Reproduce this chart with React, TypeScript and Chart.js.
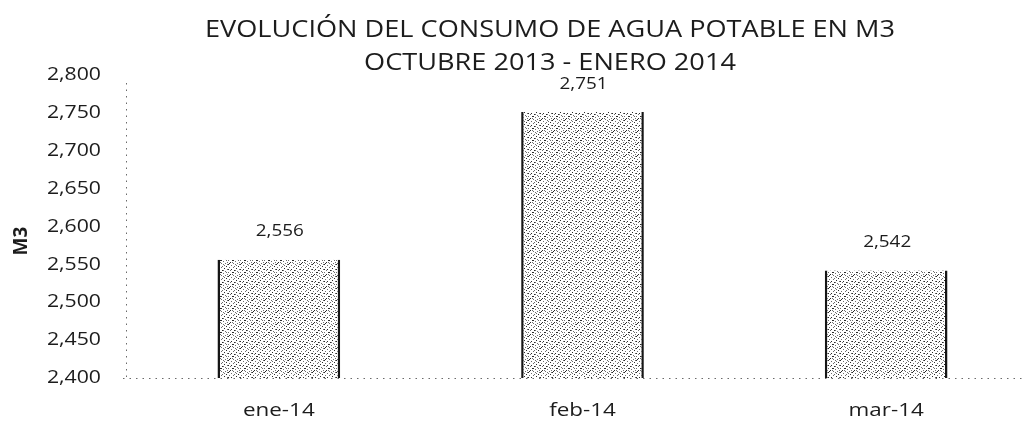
import React, { useEffect, useRef } from "react";
import { Chart, registerables } from "chart.js";

Chart.register(...registerables);

const categories = ["ene-14", "feb-14", "mar-14"];
const consumo = [2556, 2751, 2542];
const yMin = 2400;
const yMax = 2800;
const yStep = 50;
const titleLines = ["EVOLUCIÓN DEL CONSUMO DE AGUA POTABLE EN M3", "OCTUBRE 2013 - ENERO 2014"];
const yTitle = "M3";

const FONT = "'Open Sans', 'DejaVu Sans', sans-serif";
const INK = "#1c1c1c";
const STRETCH = 1.18;

const fmt = (v: number) => v.toLocaleString("en-US");

function makePattern(): CanvasPattern | string {
  const c = document.createElement("canvas");
  c.width = 12;
  c.height = 12;
  const g = c.getContext("2d");
  if (!g) return "#c8c8c8";
  g.fillStyle = "#ffffff";
  g.fillRect(0, 0, 12, 12);
  const dots = [
    [0, 0], [3, 1], [7, 0], [10, 2], [1, 3], [5, 3], [8, 4], [11, 5],
    [2, 6], [6, 6], [9, 7], [0, 8], [4, 8], [7, 9], [11, 10], [2, 10],
    [5, 11], [9, 11], [3, 5], [10, 8], [6, 2], [1, 11], [8, 1], [4, 10],
    [0, 5], [7, 6], [11, 0], [5, 8],
  ];
  dots.forEach(([x, y], i) => {
    g.fillStyle = i % 3 === 0 ? "#2a2a2a" : "#6e6e6e";
    g.fillRect(x, y, 1, 1);
  });
  return g.createPattern(c, "repeat") || "#c8c8c8";
}

function drawText(
  ctx: CanvasRenderingContext2D,
  text: string,
  x: number,
  y: number,
  font: string,
  align: CanvasTextAlign,
  sx: number = STRETCH
) {
  ctx.save();
  ctx.font = font;
  ctx.fillStyle = INK;
  ctx.textAlign = align;
  ctx.textBaseline = "middle";
  ctx.translate(x, y);
  ctx.scale(sx, 1);
  ctx.fillText(text, 0, 0);
  ctx.restore();
}

const decorations = {
  id: "decorations",
  beforeDatasetsDraw(chart: any) {
    const { ctx, chartArea } = chart;
    ctx.save();
    ctx.strokeStyle = "#6a6a6a";
    ctx.lineWidth = 1;
    ctx.setLineDash([1.5, 5]);
    ctx.beginPath();
    ctx.moveTo(chartArea.left - 0.5, chartArea.top + 8);
    ctx.lineTo(chartArea.left - 0.5, chartArea.bottom);
    ctx.moveTo(chartArea.left - 4, chartArea.bottom + 0.5);
    ctx.lineTo(chartArea.right, chartArea.bottom + 0.5);
    ctx.stroke();
    ctx.restore();
  },
  afterDatasetsDraw(chart: any) {
    const ctx = chart.ctx;
    const meta = chart.getDatasetMeta(0);
    meta.data.forEach((bar: any, i: number) => {
      drawText(ctx, fmt(consumo[i]), bar.x + 1, bar.y - 28, `16px ${FONT}`, "center");
    });
  },
  afterDraw(chart: any) {
    const ctx = chart.ctx;
    const ys = chart.scales.y;
    const xs = chart.scales.x;
    // y tick labels
    ys.ticks.forEach((t: any) => {
      drawText(ctx, fmt(t.value), ys.right - 26, ys.getPixelForValue(t.value), `18px ${FONT}`, "right");
    });
    // x tick labels
    xs.ticks.forEach((t: any, i: number) => {
      drawText(ctx, String(categories[t.value ?? i]), xs.getPixelForTick(i), chart.chartArea.bottom + 33, `19px ${FONT}`, "center");
    });
    // title
    drawText(ctx, titleLines[0], 550, 30, `23px ${FONT}`, "center");
    drawText(ctx, titleLines[1], 550, 63, `23px ${FONT}`, "center");
    // y axis title
    ctx.save();
    ctx.font = `bold 19px ${FONT}`;
    ctx.fillStyle = INK;
    ctx.textAlign = "center";
    ctx.textBaseline = "middle";
    ctx.translate(22, 241);
    ctx.rotate(-Math.PI / 2);
    ctx.fillText(yTitle, 0, 0);
    ctx.restore();
  },
};

export default function App() {
  const ref = useRef<HTMLCanvasElement>(null);

  useEffect(() => {
    if (!ref.current) return;
    const pattern = makePattern();
    const chart = new Chart(ref.current, {
      type: "bar",
      data: {
        labels: categories,
        datasets: [
          {
            data: consumo,
            backgroundColor: pattern as any,
            borderColor: "#151515",
            borderWidth: { left: 2.5, right: 2.5, bottom: 2, top: 0 } as any,
            borderSkipped: false,
            barPercentage: 0.505,
            categoryPercentage: 0.8,
          },
        ],
      },
      options: {
        animation: false,
        responsive: true,
        maintainAspectRatio: false,
        layout: { padding: { left: 0, right: 5, top: 75, bottom: 1 } },
        plugins: {
          legend: { display: false },
          tooltip: { enabled: false },
          title: { display: false },
        },
        scales: {
          x: {
            grid: { display: false, drawTicks: false },
            border: { display: false },
            ticks: { display: false },
            afterFit: (axis: any) => {
              axis.height = 44;
            },
          },
          y: {
            min: yMin,
            max: yMax,
            grid: { display: false, drawTicks: false },
            border: { display: false },
            ticks: {
              display: false,
              stepSize: yStep,
            },
            afterFit: (axis: any) => {
              axis.width = 127;
            },
          },
        },
      },
      plugins: [decorations],
    });
    return () => chart.destroy();
  }, []);

  return (
    <div style={{ position: "fixed", left: 0, top: 0, width: 1043, height: 423, background: "#fff" }}>
      <canvas ref={ref} />
    </div>
  );
}
